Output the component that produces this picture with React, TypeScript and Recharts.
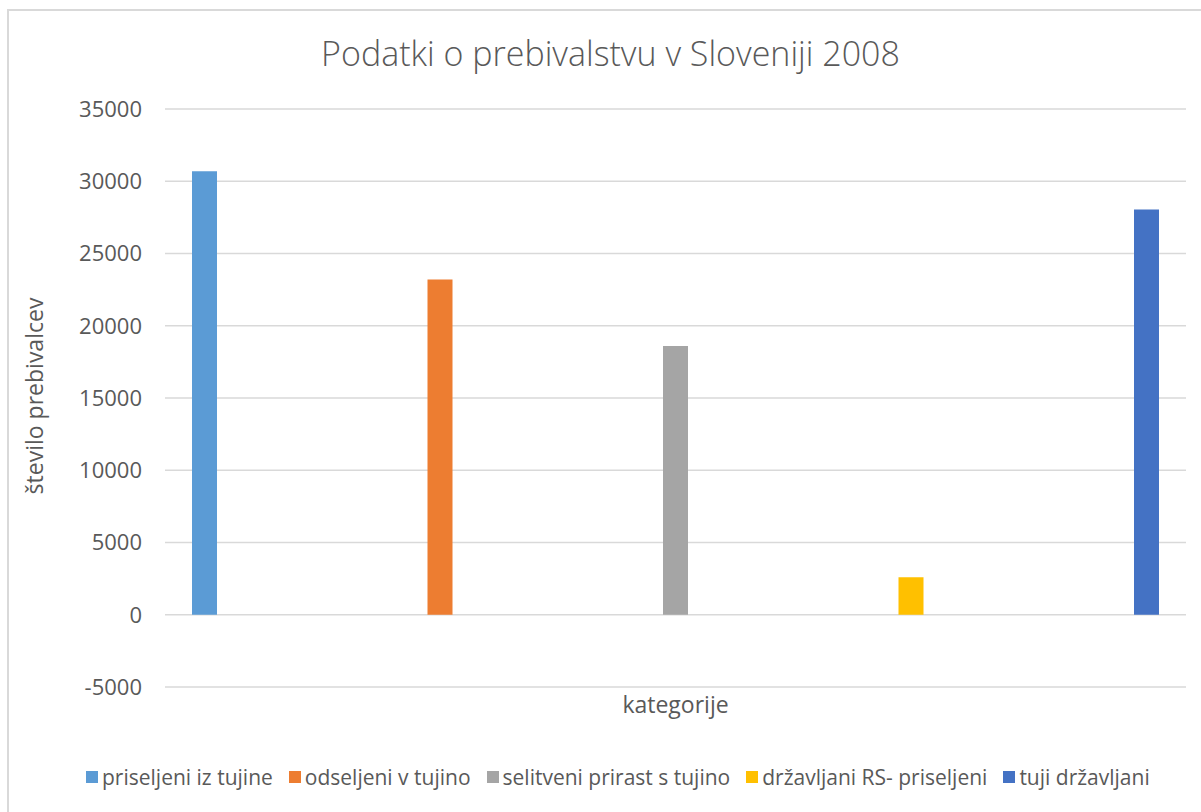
import React from "react";
import { BarChart, Bar, XAxis, YAxis, CartesianGrid } from "recharts";

const categories = [""];
const seriesNames = [
  "priseljeni iz tujine",
  "odseljeni v tujino",
  "selitveni prirast s tujino",
  "državljani RS- priseljeni",
  "tuji državljani",
];
const seriesValues = [30700, 23200, 18600, 2600, 28050];
const seriesColors = ["#5B9BD5", "#ED7D31", "#A5A5A5", "#FFC000", "#4472C4"];
const yTicks = [-5000, 0, 5000, 10000, 15000, 20000, 25000, 30000, 35000];

const FONT = "'Open Sans', 'Noto Sans', sans-serif";
const TEXT = "#595959";

// one row per category, one key per series
const chartData = categories.map((name) => {
  const row: Record<string, string | number> = { name };
  seriesValues.forEach((v, i) => {
    row[`s${i}`] = v;
  });
  return row;
});

const YLabel = (props: any) => {
  const vb = props.viewBox;
  const cy = vb.y + vb.height / 2 - 2;
  return (
    <text
      x={34}
      y={cy}
      transform={`rotate(-90, 34, ${cy})`}
      textAnchor="middle"
      dominantBaseline="central"
      fill={TEXT}
      fontSize={23}
      fontFamily={FONT}
    >
      število prebivalcev
    </text>
  );
};

const App: React.FC = () => {
  return (
    <div
      style={{
        position: "absolute",
        left: 0,
        top: 0,
        width: 1201,
        height: 812,
        background: "#fff",
        fontFamily: FONT,
        overflow: "hidden",
      }}
    >
      {/* chart frame */}
      <div
        style={{
          position: "absolute",
          left: 7,
          top: 9,
          width: 1210,
          height: 820,
          border: "2px solid #d9d9d9",
          boxSizing: "border-box",
        }}
      />
      <div
        style={{
          position: "absolute",
          left: 0,
          right: 0,
          top: 30,
          textAlign: "center",
          paddingLeft: 20,
          fontSize: 34,
          lineHeight: "47px",
          fontWeight: 300,
          color: TEXT,
        }}
      >
        Podatki o prebivalstvu v Sloveniji 2008
      </div>
      <div style={{ position: "absolute", left: 0, top: 0 }}>
        <BarChart
          width={1201}
          height={812}
          data={chartData}
          margin={{ top: 109, right: 15, left: 0, bottom: 0 }}
          barSize={25}
          barGap={210.5}
          barCategoryGap={27}
        >
          <CartesianGrid vertical={false} stroke="#d9d9d9" strokeWidth={1.5} />
          <XAxis
            dataKey="name"
            axisLine={false}
            tickLine={false}
            tick={false}
            height={125}
            label={{
              value: "kategorije",
              position: "insideTop",
              offset: 10,
              fill: TEXT,
              fontSize: 23,
              fontFamily: FONT,
            }}
          />
          <YAxis
            domain={[-5000, 35000]}
            ticks={yTicks}
            interval={0}
            width={165}
            axisLine={false}
            tickLine={false}
            tickSize={0}
            tickMargin={23}
            tick={{ fill: TEXT, fontSize: 22, fontFamily: FONT }}
            label={<YLabel />}
          />
          {seriesNames.map((n, i) => (
            <Bar
              key={n}
              dataKey={`s${i}`}
              name={n}
              fill={seriesColors[i]}
              isAnimationActive={false}
            />
          ))}
        </BarChart>
      </div>
      {/* legend */}
      <div
        style={{
          position: "absolute",
          left: 86,
          top: 763,
          display: "flex",
          alignItems: "center",
          fontSize: 21,
          color: TEXT,
          whiteSpace: "nowrap",
        }}
      >
        {seriesNames.map((n, i) => (
          <div
            key={n}
            style={{ display: "flex", alignItems: "center", marginRight: 16 }}
          >
            <span
              style={{
                display: "inline-block",
                width: 12,
                height: 12,
                background: seriesColors[i],
                marginRight: 4,
              }}
            />
            <span>{n}</span>
          </div>
        ))}
      </div>
    </div>
  );
};

export default App;
